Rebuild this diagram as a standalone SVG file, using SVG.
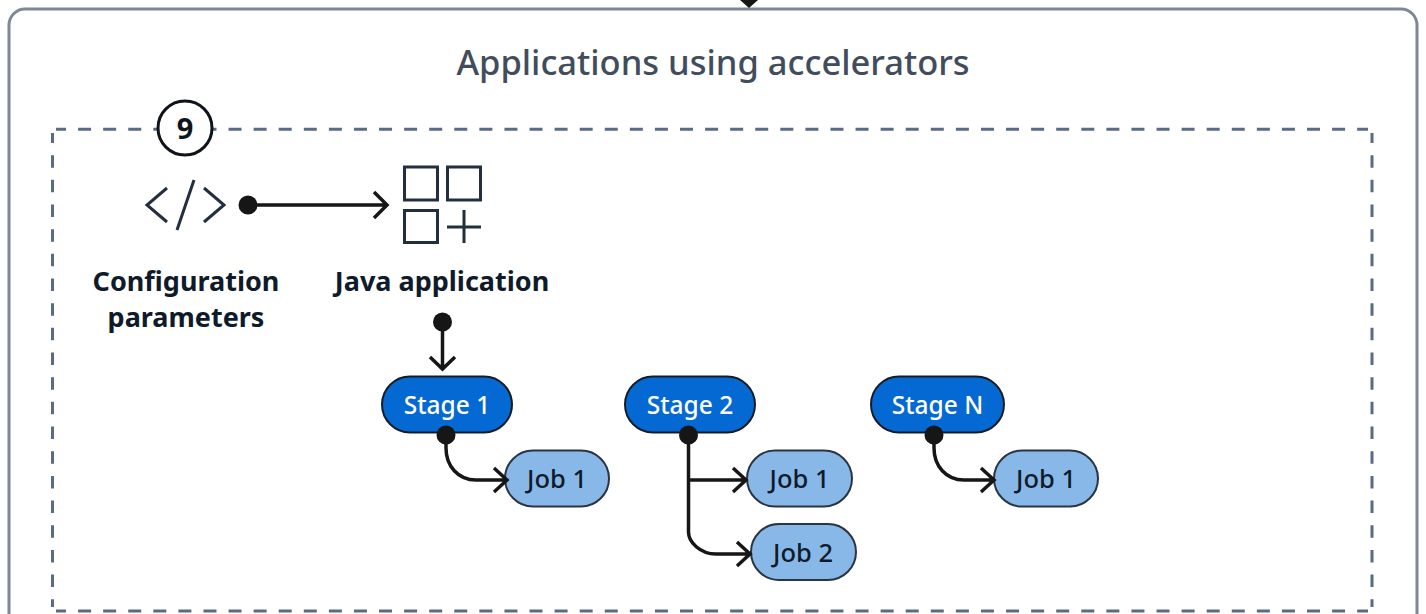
<svg xmlns="http://www.w3.org/2000/svg" width="1426" height="614" viewBox="0 0 1426 614">
<style>
text{font-family:"Noto Sans","Liberation Sans",sans-serif;text-anchor:middle}
.title{font-size:34.500px;font-weight:500;fill:#414d5c}
.lbl{font-size:27px;font-weight:700;fill:#0f1b2a}
.stage rect{fill:#0469d2;stroke:#161d26;stroke-width:2}
.stage text{font-size:24.500px;font-weight:500;fill:#fff}
.job rect{fill:#88b8e8;stroke:#2a3442;stroke-width:2}
.job text{font-size:25.500px;font-weight:500;fill:#0f1b2a}
.ic{fill:none;stroke:#232f3e;stroke-width:3}
.c{fill:none;stroke:#161616;stroke-width:3.500}
.d{fill:#161616}
.dh{fill:none;stroke:#5a6b86;stroke-width:3;stroke-dasharray:13 12.080;stroke-dashoffset:3}
.dv{fill:none;stroke:#5a6b86;stroke-width:3;stroke-dasharray:12.500 12.170;stroke-dashoffset:2.500}
</style>
<rect width="1426" height="614" fill="#fff"/>
<g id="container">
<rect x="9" y="9" width="1408" height="700" rx="16" fill="#fff" stroke="#7d8998" stroke-width="3"/>
<text class="title" x="713" y="75">Applications using accelerators</text>
</g>
<g id="dashed-region">
<path class="dh" d="M56 129.300H1368"/><path class="dh" d="M56 611H1368"/>
<path class="dv" d="M52.500 133V607"/><path class="dv" d="M1372 133V607"/>
</g>
<g id="badge"><circle cx="185" cy="128" r="27" fill="#fff" stroke="#0f141a" stroke-width="3"/><text x="185" y="139" style="font-size:29px;font-weight:700;fill:#0f141a">9</text></g>
<g id="config"><path class="ic" d="M167 188L147 205L167 222M204 188L224 205L204 222M194 180L177 230"/><text class="lbl" x="186" y="291">Configuration</text><text class="lbl" x="186" y="327">parameters</text></g>
<g id="java"><path class="ic" d="M404.500 167h33v33h-33zM447.500 167h33v33h-33zM404.500 210.500h33v32h-33zM447 227h34M464 210v33"/><text class="lbl" x="442" y="291">Java application</text></g>
<g id="stage1" class="stage"><rect x="382" y="376.500" width="130" height="56" rx="28"/><text x="447" y="414">Stage 1</text></g>
<g id="stage2" class="stage"><rect x="625" y="376.500" width="130" height="56" rx="28"/><text x="690" y="414">Stage 2</text></g>
<g id="stageN" class="stage"><rect x="871" y="376.500" width="133" height="56" rx="28"/><text x="937.500" y="414">Stage N</text></g>
<g id="s1job1" class="job"><rect x="505" y="450.500" width="104" height="56" rx="28"/><text x="557" y="488">Job 1</text></g>
<g id="s2job1" class="job"><rect x="747" y="450.500" width="105" height="56" rx="28"/><text x="799.500" y="488">Job 1</text></g>
<g id="s2job2" class="job"><rect x="751" y="524" width="105" height="56" rx="28"/><text x="803" y="562">Job 2</text></g>
<g id="sNjob1" class="job"><rect x="994" y="450.500" width="104" height="56" rx="28"/><text x="1046" y="488">Job 1</text></g>
<g id="connectors">
<path class="d" d="M740 0L749 8L758 0z"/>
<circle class="d" cx="248" cy="205" r="9.500"/><path class="c" d="M248 205H386M374 192L387 205L374 218"/>
<circle class="d" cx="442.500" cy="322" r="9.500"/><path class="c" d="M442.500 322V368M430 357L442.500 369L455 357"/>
<circle class="d" cx="446" cy="435" r="9.500"/><path class="c" d="M446 435V448C446 466 458 480 476 480H506M494 468L507 480L494 492"/>
<circle class="d" cx="688.500" cy="435" r="9.500"/><path class="c" d="M688.500 435V532C688.500 542 700 554 716 554H749M737 542L750 554L737 566M688.500 480H746M733 468L746 480L733 492"/>
<circle class="d" cx="934" cy="435" r="9.500"/><path class="c" d="M934 435V448C934 466 946 480 964 480H993M981 468L994 480L981 492"/>
</g>
</svg>
